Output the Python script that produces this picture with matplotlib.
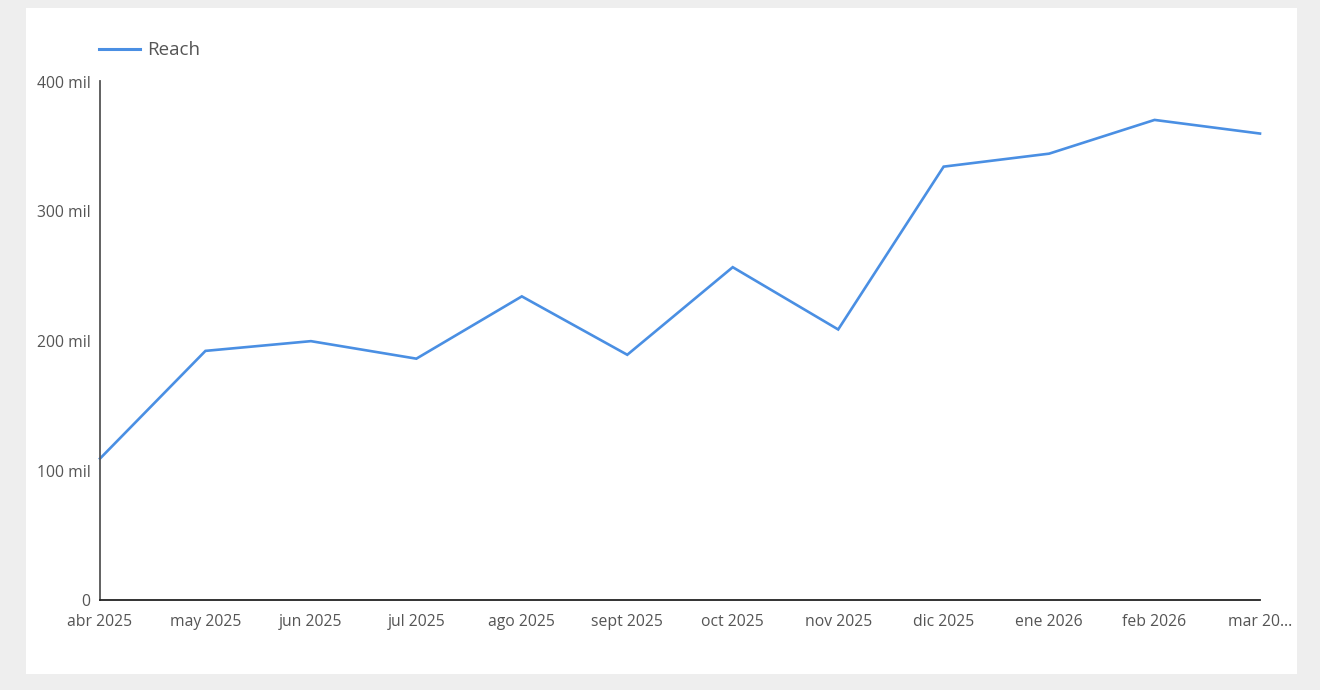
import matplotlib
matplotlib.use("Agg")
import matplotlib.pyplot as plt
import matplotlib.transforms as mtransforms
from matplotlib.patches import Rectangle
from matplotlib.lines import Line2D

months = ["abr 2025", "may 2025", "jun 2025", "jul 2025", "ago 2025", "sept 2025",
          "oct 2025", "nov 2025", "dic 2025", "ene 2026", "feb 2026", "mar 20…"]
reach = [109, 192, 199.5, 186, 234, 189, 256.5, 208.5, 334, 344, 370, 359.5]
yticks = [0, 100, 200, 300, 400]
ytick_labels = ["0", "100 mil", "200 mil", "300 mil", "400 mil"]
series_name = "Reach"

plt.rcParams['font.family'] = ['Open Sans', 'DejaVu Sans']

W, H = 1320, 690
fig = plt.figure(figsize=(W / 100, H / 100), dpi=100)
fig.patch.set_facecolor("#eeeeee")
fig.add_artist(Rectangle((26 / W, 1 - 674 / H), (1297 - 26) / W, (674 - 8) / H,
                         transform=fig.transFigure, facecolor="white", edgecolor="none", zorder=0))

ax = fig.add_axes([100 / W, 1 - 600 / H, (1260 - 100) / W, (600 - 81) / H])
ax.set_facecolor("none")
x = list(range(len(months)))
line_color = "#4a8fe3"
ax.plot(x, reach, color=line_color, linewidth=1.9, solid_joinstyle="miter", clip_on=False)
ax.set_xlim(0, len(months) - 1)
ax.set_ylim(0, 400)
ax.set_yticks(yticks)
ax.set_yticklabels(ytick_labels)
ax.set_xticks(x)
ax.set_xticklabels(months)
ax.tick_params(axis="both", length=0, labelsize=11.3, colors="#555555")
ax.tick_params(axis="x", pad=10)
ax.tick_params(axis="y", pad=7)
for s in ["top", "right"]:
    ax.spines[s].set_visible(False)
ax.spines["left"].set_color("#555555")
ax.spines["left"].set_linewidth(1.3)
ax.spines["bottom"].set_color("#222222")
ax.spines["bottom"].set_linewidth(1.3)
shift = mtransforms.ScaledTranslation(0, -2.5 / 100, fig.dpi_scale_trans)
for lbl in ax.get_yticklabels():
    lbl.set_verticalalignment("center")
    lbl.set_transform(lbl.get_transform() + shift)

# legend
fig.add_artist(Line2D([99 / W, 140 / W], [1 - 49 / H, 1 - 49 / H], transform=fig.transFigure,
                      color=line_color, linewidth=2.2))
fig.text(147 / W, 1 - 50 / H, series_name, fontsize=13.5, color="#555555", va="center", ha="left")

fig.savefig("out.png", dpi=100, facecolor=fig.get_facecolor())
